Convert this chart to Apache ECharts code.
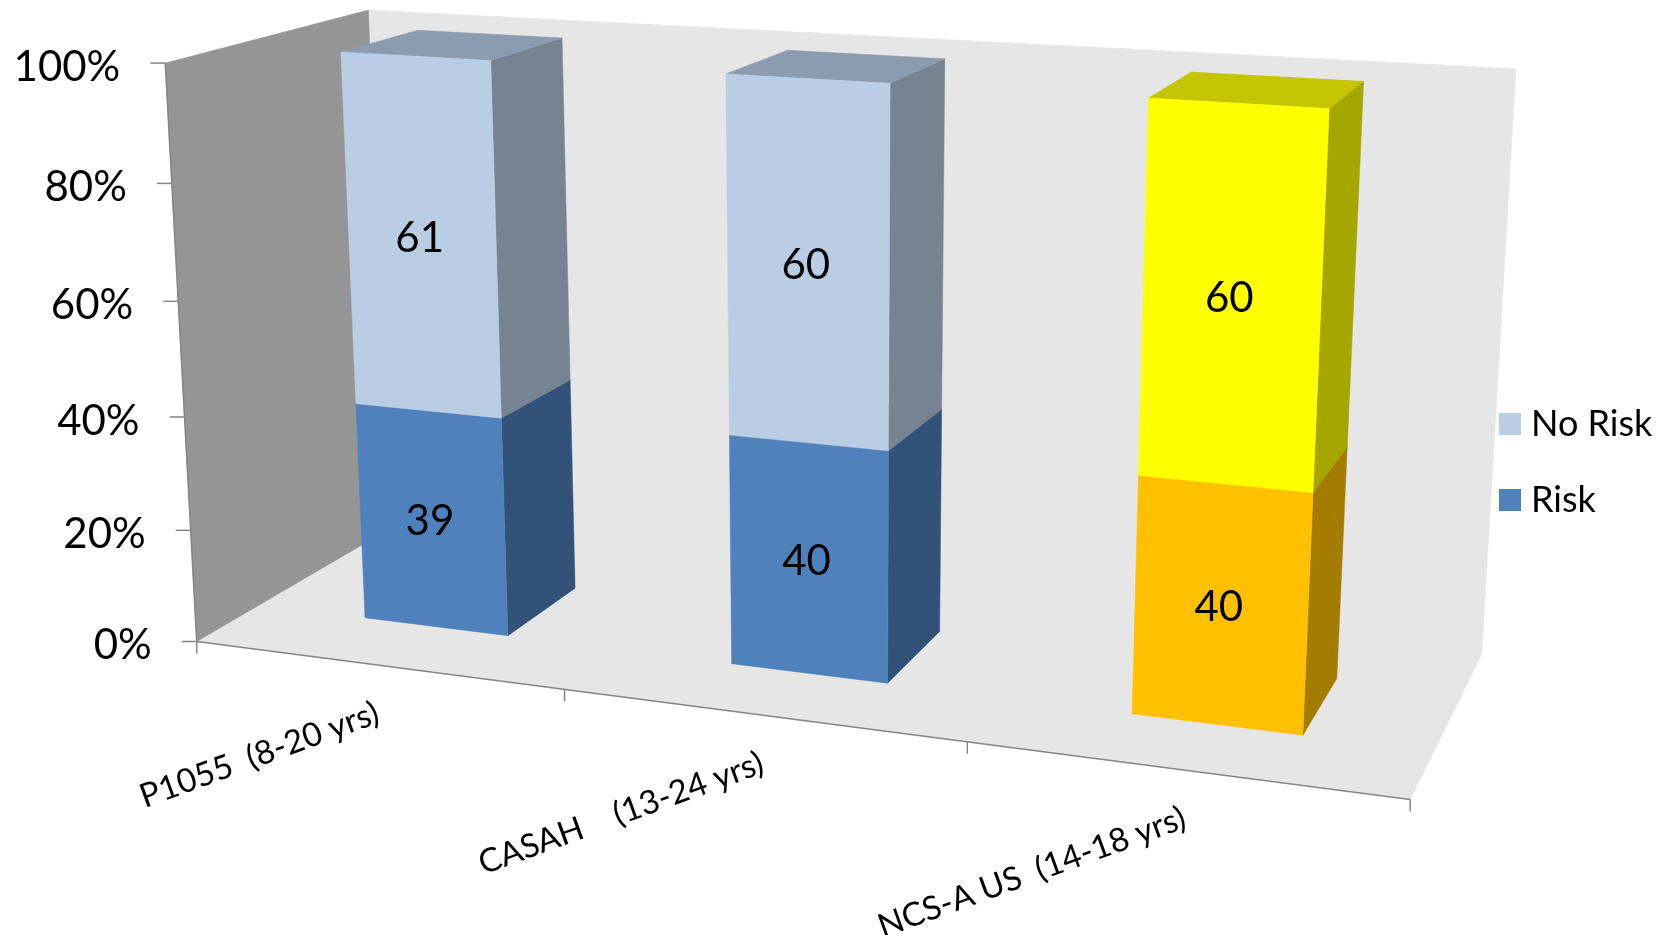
<!doctype html>
<html>
<head>
<meta charset="utf-8">
<style>html,body{margin:0;padding:0;background:#fff}#chart{width:1668px;height:935px}</style>
<script src="https://cdn.jsdelivr.net/npm/echarts@6/dist/echarts.min.js"></script>
</head>
<body>
<div id="chart"></div>
<script>
// Share of adolescents at risk, by study.
const categories = ['P1055  (8-20 yrs)', 'CASAH    (13-24 yrs)', 'NCS-A US  (14-18 yrs)'];
const riskValues = [39, 40, 40];
const noRiskValues = [61, 60, 60];
const valueTicks = [0, 20, 40, 60, 80, 100];

// Two perspective cameras, each mapping (category, height 0..1, depth 0..1) to the page.
const FRAME_CAMERA = [0.343277, -0.039476, 0.236630, 0.196754, 0.017950, -0.581463, -0.049241, 0.641492, -0.043399, -0.048328, 0.117656];
const BAR_CAMERA = [0.331516, -0.040111, 0.091735, 0.260990, 0.017627, -0.561345, -0.018995, 0.604808, -0.041725, -0.047761, 0.046085];

const project = (c, u, v, w) => {
  const d = c[8] * u + c[9] * v + c[10] * w + 1;
  return [1000 * (c[0] * u + c[1] * v + c[2] * w + c[3]) / d, 1000 * (c[4] * u + c[5] * v + c[6] * w + c[7]) / d];
};

const FONT = 'Lato, "Open Sans", sans-serif';
const BAR_HALF = 0.2;
const PALETTES = {
  blue: {
    risk: { front: '#4F81BD', side: '#32527A', top: '#32527A' },
    noRisk: { front: '#B9CDE5', side: '#768492', top: '#8C9CB0' }
  },
  amber: {
    risk: { front: '#FFC000', side: '#A37C00', top: '#A37C00' },
    noRisk: { front: '#FFFF00', side: '#A6A600', top: '#C4C400' }
  }
};
const paletteFor = i => (i === 2 ? PALETTES.amber : PALETTES.blue);

// Turns axis values into camera coordinates through the flat hidden grid.
function toCamera(params, api, category, value) {
  const cs = params.coordSys;
  const p = api.coord([category, value]);
  return { u: (p[0] - cs.x) / cs.width * categories.length, v: (cs.y + cs.height - p[1]) / cs.height };
}

const poly = (points, fill) => ({
  type: 'polygon',
  shape: { points },
  style: { fill, stroke: fill, lineWidth: 0.5 },
  silent: true
});
const line = (a, b) => ({
  type: 'line',
  shape: { x1: a[0], y1: a[1], x2: b[0], y2: b[1] },
  style: { stroke: '#868686', lineWidth: 1.5 },
  silent: true
});

function renderFrame(params, api) {
  const n = categories.length;
  const P = (u, v, w) => project(FRAME_CAMERA, u, v, w);
  return {
    type: 'group',
    children: [
      poly([P(0, 0, 1), P(n, 0, 1), P(n, 1, 1), P(0, 1, 1)], '#E6E6E6'),
      poly([P(0, 0, 0), P(n, 0, 0), P(n, 0, 1), P(0, 0, 1)], '#E6E6E6'),
      poly([P(0, 0, 0), P(0, 0, 1), P(0, 1, 1), P(0, 1, 0)], '#959595'),
      line(P(0, 0, 0), P(n, 0, 0)),
      line(P(0, 0, 0), P(0, 1, 0))
    ]
  };
}

function renderValueTick(params, api) {
  const value = api.value(1);
  const { v } = toCamera(params, api, 0, value);
  const p = project(FRAME_CAMERA, 0, v, 0);
  return {
    type: 'group',
    children: [
      line([p[0] - 15, p[1]], p),
      {
        type: 'text',
        x: p[0] - 45,
        y: p[1] + 4,
        silent: true,
        style: { text: value + '%', font: '42px ' + FONT, fill: '#000', align: 'right', verticalAlign: 'middle' }
      }
    ]
  };
}

function renderCategoryTick(params, api) {
  const i = api.value(0);
  const { u } = toCamera(params, api, i, 0);
  const c = project(FRAME_CAMERA, u, 0, 0);
  const left = project(FRAME_CAMERA, u - 0.5, 0, 0);
  const right = project(FRAME_CAMERA, u + 0.5, 0, 0);
  const children = [line(right, [right[0], right[1] + 12])];
  if (i === 0) children.push(line(left, [left[0], left[1] + 12]));
  children.push({
    type: 'text',
    x: c[0] + 1,
    y: c[1] + 47,
    rotation: 20 * Math.PI / 180,
    silent: true,
    style: { text: categories[i], font: '33px ' + FONT, fill: '#000', align: 'right', verticalAlign: 'middle' }
  });
  return { type: 'group', children };
}

// One stacked segment: front, side and top faces with its value written on the front.
function segmentRenderer(kind) {
  return (params, api) => {
    const i = api.value(0);
    const low = toCamera(params, api, i, api.value(1));
    const high = toCamera(params, api, i, api.value(2));
    const a = low.u - BAR_HALF;
    const b = low.u + BAR_HALF;
    const P = (u, v, w) => project(BAR_CAMERA, u, v, w);
    const colors = paletteFor(i)[kind];
    const mid = P(low.u, (low.v + high.v) / 2, 0);
    return {
      type: 'group',
      children: [
        poly([P(b, low.v, 0), P(b, low.v, 1), P(b, high.v, 1), P(b, high.v, 0)], colors.side),
        poly([P(a, high.v, 0), P(b, high.v, 0), P(b, high.v, 1), P(a, high.v, 1)], colors.top),
        poly([P(a, low.v, 0), P(b, low.v, 0), P(b, high.v, 0), P(a, high.v, 0)], colors.front),
        {
          type: 'text',
          x: mid[0] - 2,
          y: mid[1] + 2,
          silent: true,
          style: { text: String(api.value(2) - api.value(1)), font: '42px ' + FONT, fill: '#000', align: 'center', verticalAlign: 'middle' }
        }
      ]
    };
  };
}

const chart = echarts.init(document.getElementById('chart'), null, { renderer: 'canvas' });
chart.setOption({
  animation: false,
  backgroundColor: '#fff',
  grid: { left: 0, right: 0, top: 0, bottom: 0, show: false },
  xAxis: { type: 'category', data: categories, show: false },
  yAxis: { type: 'value', min: 0, max: 100, interval: 20, show: false },
  legend: {
    left: 1494,
    top: 401,
    orient: 'vertical',
    icon: 'rect',
    itemWidth: 22,
    itemHeight: 22,
    itemGap: 40,
    data: ['No Risk', 'Risk'],
    selectedMode: false,
    textStyle: { fontFamily: FONT, fontSize: 36, color: '#000', padding: [0, 0, 0, 5] }
  },
  series: [
    {
      type: 'custom', name: 'frame', clip: false, silent: true, z: 1,
      data: [[0, 0]], renderItem: renderFrame
    },
    {
      type: 'custom', name: 'valueTicks', clip: false, silent: true, z: 2,
      data: valueTicks.map(t => [0, t]), renderItem: renderValueTick
    },
    {
      type: 'custom', name: 'categoryTicks', clip: false, silent: true, z: 2,
      data: categories.map((c, i) => [i, 0]), renderItem: renderCategoryTick
    },
    {
      type: 'custom', name: 'Risk', clip: false, z: 3,
      itemStyle: { color: '#4F81BD' },
      encode: { x: 0, y: 2 },
      data: riskValues.map((r, i) => [i, 0, r]),
      renderItem: segmentRenderer('risk')
    },
    {
      type: 'custom', name: 'No Risk', clip: false, z: 4,
      itemStyle: { color: '#B9CDE5' },
      encode: { x: 0, y: 2 },
      data: noRiskValues.map((n, i) => [i, riskValues[i], riskValues[i] + n]),
      renderItem: segmentRenderer('noRisk')
    }
  ]
});
</script>
</body>
</html>
